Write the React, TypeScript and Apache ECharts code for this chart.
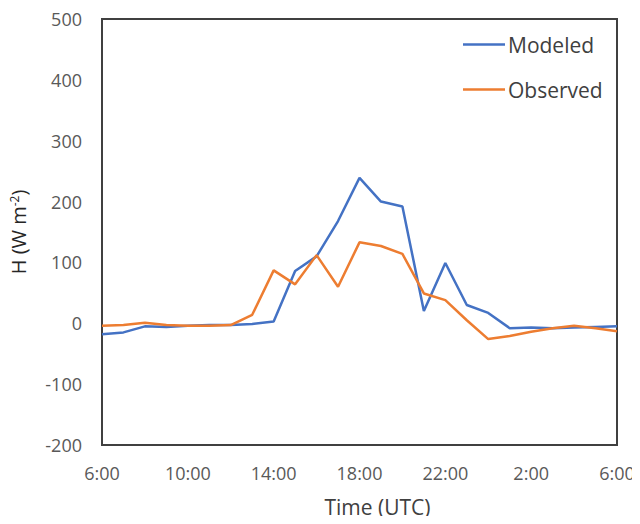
import React, { useEffect, useRef } from "react";
import * as echarts from "echarts";

// Hourly time steps, 6:00 UTC through 6:00 UTC the next day
const hours: string[] = [
  "6:00", "7:00", "8:00", "9:00", "10:00", "11:00", "12:00", "13:00",
  "14:00", "15:00", "16:00", "17:00", "18:00", "19:00", "20:00", "21:00",
  "22:00", "23:00", "0:00", "1:00", "2:00", "3:00", "4:00", "5:00", "6:00",
];

// Sensible heat flux H (W m-2)
const modeled: number[] = [
  -18, -15, -5, -6, -4, -3, -3, -1, 3, 86, 110, 168, 239, 200, 192, 20,
  99, 30, 17, -8, -7, -8, -7, -6, -5,
];
const observed: number[] = [
  -4, -3, 1, -3, -4, -4, -3, 14, 87, 64, 112, 60, 133, 127, 114, 49,
  38, 5, -26, -21, -14, -8, -4, -8, -13,
];

const FONT = "'Open Sans', sans-serif";
const BLUE = "#4472C4";
const ORANGE = "#ED7D31";

export default function App() {
  const ref = useRef<HTMLDivElement>(null);

  useEffect(() => {
    if (!ref.current) return;
    const chart = echarts.init(ref.current, null, { renderer: "svg" });
    chart.setOption({
      animation: false,
      backgroundColor: "#ffffff",
      grid: {
        left: 101,
        right: 23,
        top: 19,
        bottom: 79,
        show: true,
        borderColor: "#404040",
        borderWidth: 2,
        backgroundColor: "transparent",
      },
      legend: {
        orient: "vertical",
        left: 463,
        top: 34,
        padding: 0,
        icon: "rect",
        itemWidth: 42,
        itemHeight: 2.5,
        itemGap: 24,
        textStyle: { fontFamily: FONT, fontSize: 21, color: "#404040", padding: [0, 0, 0, -2] },
        data: ["Modeled", "Observed"],
      },
      xAxis: {
        type: "category",
        data: hours,
        boundaryGap: false,
        axisLine: { show: false },
        axisTick: { show: false },
        splitLine: { show: false },
        axisLabel: {
          interval: 3,
          margin: 19,
          fontFamily: FONT,
          fontSize: 18,
          color: "#595959",
        },
        name: "Time (UTC)",
        nameLocation: "middle",
        nameGap: 51,
        nameTextStyle: {
          fontFamily: FONT,
          fontSize: 21,
          color: "#404040",
          padding: [0, 0, 0, 36],
        },
      },
      yAxis: {
        type: "value",
        min: -200,
        max: 500,
        interval: 100,
        axisLine: { show: false },
        axisTick: { show: false },
        splitLine: { show: false },
        axisLabel: {
          margin: 20,
          fontFamily: FONT,
          fontSize: 18,
          color: "#595959",
        },
        name: "H (W m{sup|-2})",
        nameLocation: "middle",
        nameGap: 74,
        nameTextStyle: {
          fontFamily: FONT,
          fontSize: 20,
          color: "#262626",
          rich: {
            sup: {
              fontFamily: FONT,
              fontSize: 12,
              color: "#262626",
              verticalAlign: "top",
              padding: [0, 0, 8, 0],
            },
          },
        },
      },
      series: [
        {
          name: "Modeled",
          type: "line",
          data: modeled,
          symbol: "none",
          color: BLUE,
          lineStyle: { color: BLUE, width: 2.5 },
        },
        {
          name: "Observed",
          type: "line",
          data: observed,
          symbol: "none",
          color: ORANGE,
          lineStyle: { color: ORANGE, width: 2.5 },
        },
      ],
    });
    return () => chart.dispose();
  }, []);

  return <div ref={ref} style={{ width: 640, height: 524, margin: -8 }} />;
}
